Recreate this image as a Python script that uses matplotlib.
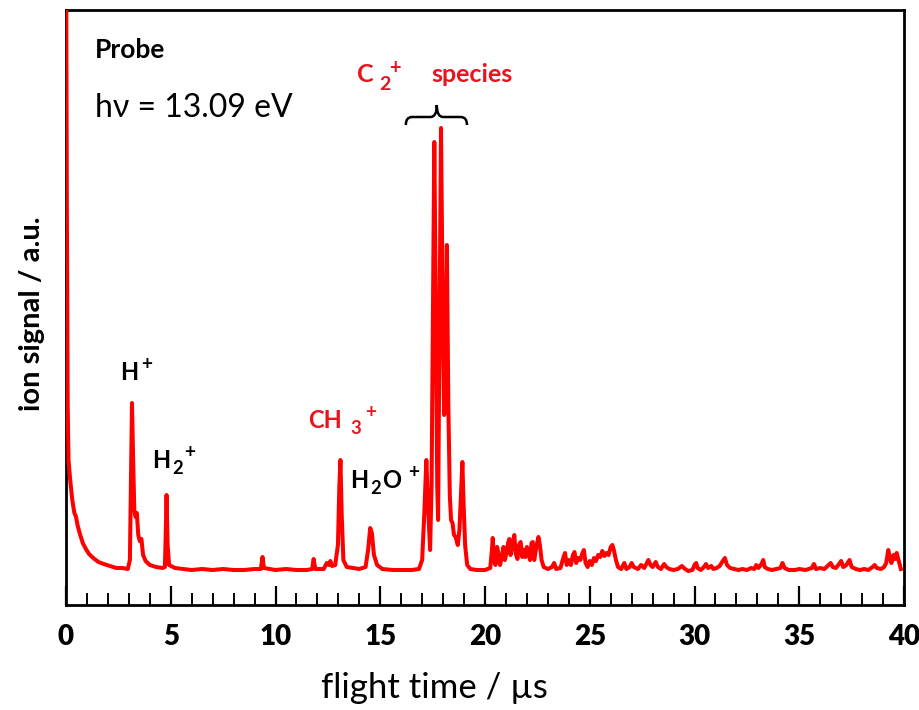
import matplotlib
matplotlib.use("Agg")
import matplotlib.pyplot as plt
from matplotlib.path import Path
from matplotlib.patches import PathPatch

plt.rcParams['font.family'] = ['Lato', 'DejaVu Sans']

# ---- data: traced time-of-flight spectrum (flight time in µs, ion signal in a.u.)
flight_time = [
    0.00, 0.04, 0.08, 0.12, 0.20, 0.30, 0.40, 0.48, 0.55, 0.65, 0.80, 0.95, 1.10, 1.30, 1.55, 1.80,
    2.10, 2.40, 2.70, 2.95, 3.05, 3.10, 3.15, 3.20, 3.26, 3.32, 3.38, 3.45, 3.52, 3.60, 3.68, 3.80,
    4.00, 4.30, 4.60, 4.72, 4.76, 4.80, 4.85, 4.92, 5.20, 5.60, 6.00, 6.50, 7.00, 7.50, 8.00, 8.50,
    9.00, 9.30, 9.38, 9.45, 10.0, 10.5, 11.0, 11.5, 11.75, 11.82, 11.9, 12.3, 12.45, 12.55, 12.62,
    12.7, 12.85, 12.98, 13.05, 13.10, 13.16, 13.24, 13.4, 13.7, 14.0, 14.3, 14.42, 14.52, 14.6, 14.7,
    14.85, 15.1, 15.6, 16.0, 16.5, 16.85, 17.0, 17.1, 17.2, 17.28, 17.38, 17.45, 17.52, 17.58, 17.66,
    17.72, 17.76, 17.82, 17.9, 17.98, 18.05, 18.1, 18.18, 18.25, 18.32, 18.38, 18.45, 18.52, 18.6,
    18.7, 18.78, 18.85, 18.92, 18.98, 19.05, 19.15, 19.3, 19.6, 20.0, 20.25, 20.33, 20.37, 20.43,
    20.5, 20.58, 20.65, 20.72, 20.8, 20.88, 20.95, 21.02, 21.1, 21.16, 21.22, 21.3, 21.4, 21.46,
    21.55, 21.62, 21.7, 21.78, 21.85, 21.92, 22.0, 22.08, 22.15, 22.22, 22.28, 22.35, 22.45, 22.55,
    22.62, 22.7, 22.8, 23.0, 23.2, 23.3, 23.4, 23.6, 23.75, 23.82, 23.9, 24.0, 24.1, 24.2, 24.27,
    24.35, 24.45, 24.55, 24.65, 24.72, 24.8, 24.9, 25.0, 25.1, 25.2, 25.3, 25.4, 25.5, 25.6, 25.7,
    25.8, 25.9, 26.0, 26.08, 26.15, 26.25, 26.35, 26.5, 26.65, 26.75, 26.9, 27.0, 27.1, 27.3, 27.45,
    27.6, 27.8, 27.9, 28.0, 28.15, 28.25, 28.4, 28.55, 28.65, 28.8, 29.0, 29.2, 29.4, 29.55, 29.7,
    29.9, 30.0, 30.08, 30.15, 30.3, 30.45, 30.55, 30.65, 30.8, 30.9, 31.05, 31.2, 31.35, 31.45, 31.55,
    31.7, 31.9, 32.1, 32.3, 32.5, 32.7, 32.85, 32.95, 33.05, 33.2, 33.28, 33.35, 33.5, 33.7, 33.9,
    34.1, 34.2, 34.3, 34.5, 34.8, 35.0, 35.3, 35.6, 35.7, 35.8, 36.0, 36.2, 36.4, 36.5, 36.6, 36.75,
    36.9, 37.0, 37.1, 37.25, 37.4, 37.5, 37.7, 37.9, 38.1, 38.3, 38.5, 38.6, 38.7, 38.9, 39.05, 39.15,
    39.25, 39.32, 39.4, 39.5, 39.58, 39.65, 39.75, 39.85,
]
ion_signal = [
    700, 400, 200, 145, 125, 105, 92, 88, 80, 72, 62, 56, 51, 47, 43, 41,
    39, 37, 37, 36, 45, 120, 202, 150, 95, 88, 92, 70, 64, 66, 50, 44,
    40, 38, 37, 38, 70, 110, 60, 40, 37, 36, 35, 36, 35, 36, 35, 35,
    36, 36, 48, 37, 35, 36, 35, 35, 36, 46, 36, 36, 42, 40, 44,
    39, 40, 60, 120, 145, 90, 45, 38, 37, 36, 38, 55, 77, 72, 50,
    40, 36, 35, 35, 35, 36, 45, 90, 145, 100, 55, 120, 300, 463, 280,
    120, 85, 250, 477, 300, 190, 200, 360, 200, 110, 85, 82, 70, 68,
    60, 75, 110, 143, 100, 60, 40, 36, 35, 35, 37, 55, 67, 45,
    40, 58, 50, 40, 48, 58, 45, 52, 62, 66, 50, 60, 70, 52,
    46, 60, 63, 48, 55, 48, 58, 50, 45, 62, 63, 45, 58, 68,
    60, 45, 38, 36, 38, 42, 36, 37, 48, 52, 40, 45, 40, 50, 53,
    42, 47, 45, 52, 55, 42, 38, 44, 40, 47, 44, 50, 48, 54, 49,
    52, 50, 58, 60, 55, 45, 38, 36, 42, 36, 38, 42, 38, 36, 40,
    37, 45, 40, 38, 43, 38, 36, 41, 38, 36, 35, 36, 39, 36, 34,
    35, 40, 42, 37, 35, 38, 41, 37, 39, 36, 37, 39, 44, 47, 40,
    37, 36, 35, 36, 35, 37, 36, 40, 37, 41, 45, 38, 36, 35, 36,
    37, 42, 37, 35, 35, 36, 35, 37, 41, 36, 37, 36, 40, 42, 38, 37,
    41, 44, 38, 40, 45, 38, 36, 35, 36, 35, 38, 40, 37, 36, 38, 42,
    55, 48, 42, 50, 46, 52, 44, 36,
]
x_ticks = [0, 5, 10, 15, 20, 25, 30, 35, 40]
x_tick_labels = ['0', '5', '10', '15', '20', '25', '30', '35', '40']

RED_LINE = '#ff0000'
RED_TEXT = '#e8141e'

fig = plt.figure(figsize=(9.2, 7.1), dpi=100)
ax = fig.add_axes([66 / 920, 105 / 710, (904 - 66) / 920, (605 - 10) / 710])

ax.plot(flight_time, ion_signal, color=RED_LINE, lw=2.9, solid_joinstyle='round', zorder=3)

ax.set_xlim(0, 40)
ax.set_ylim(0, 595)
ax.set_yticks([])
ax.set_xticks(x_ticks)
ax.set_xticklabels(x_tick_labels, fontsize=20, fontweight='heavy')
ax.set_xticks(range(0, 41), minor=True)
ax.tick_params(axis='x', which='major', direction='in', length=14, width=1.6, pad=14)
ax.tick_params(axis='x', which='minor', direction='in', length=9, width=1.4)
for s in ax.spines.values():
    s.set_linewidth(2.0)
    s.set_color('black')

ax.set_xlabel('flight time / µs', fontsize=25)
ax.xaxis.set_label_coords(0.44, -0.112)
ax.set_ylabel('ion signal / a.u.', fontsize=21, fontweight='bold')
ax.yaxis.set_label_coords(-0.025, 0.49)


def ion_label(x, y, main, sub=None, sup=None, color='black', size=17,
              sub_dx=0.0, sup_dx=0.0, tail=None, tail_dx=0.0):
    ax.text(x, y, main, color=color, fontsize=size, fontweight='bold', ha='left', va='center')
    if sub is not None:
        ax.text(x + sub_dx, y - 9, sub, color=color, fontsize=size * 0.78, fontweight='bold',
                ha='left', va='center')
    if tail is not None:
        ax.text(x + tail_dx, y, tail, color=color, fontsize=size, fontweight='bold',
                ha='left', va='center')
    if sup is not None:
        ax.text(x + sup_dx, y + 7, sup, color=color, fontsize=size * 0.8, fontweight='bold',
                ha='left', va='center')


ax.text(1.39, 555, 'Probe', fontsize=19, fontweight='bold', ha='left', va='center')
ax.text(1.39, 497, 'hν = 13.09 eV', fontsize=23, ha='left', va='center')

ion_label(2.6, 233, 'H', sup='+', sup_dx=1.0)
ion_label(4.12, 145, 'H', sub='2', sup='+', sub_dx=0.95, sup_dx=1.5)
ion_label(11.55, 185, 'CH', sub='3', sup='+', color=RED_TEXT, sub_dx=2.0, sup_dx=2.75)
ion_label(13.58, 125, 'H', sub='2', sup='+', tail='O', sub_dx=0.95, tail_dx=1.5, sup_dx=2.75)
ion_label(13.9, 530, 'C', sub='2', sup='+', color=RED_TEXT, size=18, sub_dx=1.05, sup_dx=1.5)
ax.text(17.45, 530, 'species', color=RED_TEXT, fontsize=18, fontweight='bold', ha='left', va='center')

# curly brace over the C2+ group
bx0, bx1, bxm = 16.22, 19.14, 17.7
yb, yh, yt = 480, 488, 500
verts = [
    (bx0, yb), (bx0, yh), (bx0 + 0.3, yh),
    (bxm - 0.3, yh),
    (bxm, yh), (bxm, yt),
    (bxm, yh), (bxm + 0.3, yh),
    (bx1 - 0.3, yh),
    (bx1, yh), (bx1, yb),
]
codes = [Path.MOVETO, Path.CURVE3, Path.CURVE3,
         Path.LINETO,
         Path.CURVE3, Path.CURVE3,
         Path.CURVE3, Path.CURVE3,
         Path.LINETO,
         Path.CURVE3, Path.CURVE3]
ax.add_patch(PathPatch(Path(verts, codes), fill=False, lw=1.8, color='black', zorder=4))

fig.savefig('out.png', dpi=100)
